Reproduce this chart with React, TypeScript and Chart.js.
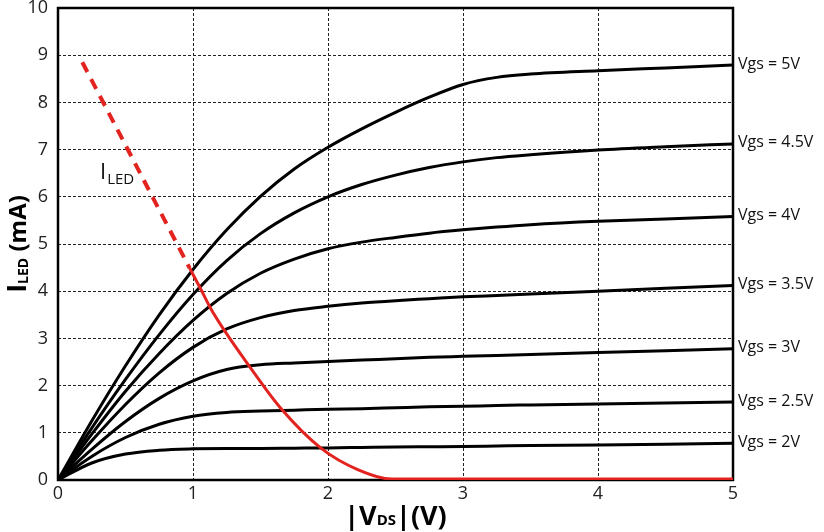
import { useEffect, useRef } from 'react';
import { Chart, registerables } from 'chart.js';
Chart.register(...registerables);

// |VDS| (V) sample points
const vds = [0, 0.25, 0.5, 0.75, 1, 1.25, 1.5, 1.75, 2, 2.25, 2.5, 2.75, 3, 3.25, 3.5, 4, 4.5, 5];
// ILED (mA) for each Vgs
const vgs5 = [0, 1.25, 2.42, 3.5, 4.46, 5.3, 6.01, 6.59, 7.05, 7.44, 7.79, 8.11, 8.38, 8.53, 8.6, 8.67, 8.73, 8.79];
const vgs45 = [0, 1.1, 2.13, 3.08, 3.93, 4.65, 5.22, 5.66, 6.0, 6.26, 6.46, 6.62, 6.74, 6.83, 6.89, 6.99, 7.06, 7.12];
const vgs4 = [0, 0.97, 1.88, 2.68, 3.38, 3.95, 4.38, 4.68, 4.9, 5.04, 5.14, 5.23, 5.3, 5.36, 5.41, 5.48, 5.53, 5.58];
const vgs35 = [0, 0.83, 1.6, 2.27, 2.81, 3.2, 3.44, 3.59, 3.68, 3.75, 3.8, 3.84, 3.88, 3.91, 3.94, 4.0, 4.06, 4.12];
const vgs3 = [0, 0.65, 1.24, 1.73, 2.1, 2.34, 2.44, 2.48, 2.51, 2.54, 2.57, 2.6, 2.62, 2.64, 2.66, 2.7, 2.74, 2.78];
const vgs25 = [0, 0.5, 0.9, 1.18, 1.35, 1.43, 1.46, 1.48, 1.5, 1.51, 1.53, 1.55, 1.56, 1.58, 1.59, 1.61, 1.63, 1.65];
const vgs2 = [0, 0.36, 0.55, 0.63, 0.66, 0.67, 0.67, 0.675, 0.68, 0.69, 0.7, 0.705, 0.71, 0.72, 0.73, 0.74, 0.76, 0.78];
const curveLabels = ['Vgs = 5V', 'Vgs = 4.5V', 'Vgs = 4V', 'Vgs = 3.5V', 'Vgs = 3V', 'Vgs = 2.5V', 'Vgs = 2V'];

// ILED load line
const ledDashX = [0.18, 0.975];
const ledDashY = [8.85, 4.49];
const ledX = [0.975, 1.06, 1.13, 1.23, 1.41, 1.65, 1.95, 2.22, 2.47, 3, 4, 5];
const ledY = [4.49, 4.03, 3.64, 3.18, 2.44, 1.52, 0.67, 0.22, 0.02, 0.02, 0.02, 0.02];

const xMin = 0, xMax = 5, yMin = 0, yMax = 10;

const RED = '#e3231f';
const FONT = '"Open Sans", "Liberation Sans", sans-serif';

export default function App() {
  const ref = useRef<HTMLCanvasElement>(null);
  useEffect(() => {
    document.body.style.margin = '0';
    const series = [vgs5, vgs45, vgs4, vgs35, vgs3, vgs25, vgs2];
    const datasets: any[] = [
      {
        label: 'ILED',
        data: ledX.map((x, i) => ({ x, y: ledY[i] })),
        borderColor: RED,
        borderWidth: 3,
        pointRadius: 0,
        cubicInterpolationMode: 'monotone',
      },
      {
        label: 'ILED dashed',
        data: ledDashX.map((x, i) => ({ x, y: ledDashY[i] })),
        borderColor: RED,
        borderWidth: 4,
        borderDash: [11, 8],
        pointRadius: 0,
      },
      ...series.map((s, i) => ({
        label: curveLabels[i],
        data: vds.map((x, j) => ({ x, y: s[j] })),
        borderColor: '#000',
        borderWidth: 3,
        pointRadius: 0,
        cubicInterpolationMode: 'monotone',
      })),
    ];

    const annot = {
      id: 'annot',
      beforeDatasetsDraw(chart: any) {
        const { ctx, chartArea: a } = chart;
        ctx.save();
        ctx.strokeStyle = '#000';
        ctx.lineWidth = 2.5;
        ctx.strokeRect(a.left, a.top, a.right - a.left, a.bottom - a.top);
        ctx.restore();
      },
      afterDraw(chart: any) {
        const { ctx, chartArea: a } = chart;
        const ys = chart.scales.y;
        ctx.save();
        ctx.fillStyle = '#111';
        // right-side curve labels
        ctx.font = `16px ${FONT}`;
        ctx.textAlign = 'left';
        ctx.textBaseline = 'middle';
        series.forEach((s, i) => {
          ctx.fillText(curveLabels[i], a.right + 5, ys.getPixelForValue(s[s.length - 1]) - 1);
        });
        // ILED annotation
        ctx.textBaseline = 'alphabetic';
        ctx.font = `22px ${FONT}`;
        ctx.fillText('I', 100, 179);
        const iw = ctx.measureText('I').width;
        ctx.font = `15px ${FONT}`;
        ctx.fillText('LED', 100 + iw + 1, 184);

        // x axis title  |VDS|(V)
        const parts = [
          { t: '|V', f: `bold 27px ${FONT}` },
          { t: 'DS', f: `bold 15px ${FONT}` },
          { t: '|(V)', f: `bold 27px ${FONT}` },
        ];
        let total = 0;
        parts.forEach((p) => { ctx.font = p.f; total += ctx.measureText(p.t).width; });
        let x = (a.left + a.right) / 2 - total / 2;
        ctx.fillStyle = '#000';
        parts.forEach((p) => {
          ctx.font = p.f;
          ctx.fillText(p.t, x, 525);
          x += ctx.measureText(p.t).width;
        });

        // y axis title  ILED (mA)
        const yparts = [
          { t: 'I', f: `bold 27px ${FONT}`, dy: 0 },
          { t: 'LED', f: `bold 14px ${FONT}`, dy: 2 },
          { t: ' (mA)', f: `bold 24px ${FONT}`, dy: 0 },
        ];
        let ytot = 0;
        yparts.forEach((p) => { ctx.font = p.f; ytot += ctx.measureText(p.t).width; });
        ctx.translate(26, (a.top + a.bottom) / 2);
        ctx.rotate(-Math.PI / 2);
        let yx = -ytot / 2;
        yparts.forEach((p) => {
          ctx.font = p.f;
          ctx.fillText(p.t, yx, p.dy);
          yx += ctx.measureText(p.t).width;
        });
        ctx.restore();
      },
    };

    const chart = new Chart(ref.current!, {
      type: 'line',
      data: { datasets },
      options: {
        responsive: false,
        animation: false,
        events: [],
        layout: { padding: { left: 0, right: 91, top: 8, bottom: 0 } },
        plugins: { legend: { display: false }, tooltip: { enabled: false } },
        scales: {
          x: {
            type: 'linear',
            min: xMin,
            max: xMax,
            ticks: { stepSize: 1, color: '#222', font: { size: 18, family: FONT }, padding: 3 },
            grid: { color: '#222', lineWidth: 1, drawTicks: false },
            border: { display: false, dash: [3, 2] },
            afterFit: (s: any) => { s.height = 52; s.paddingLeft = 0; s.paddingRight = 0; },
          },
          y: {
            type: 'linear',
            min: yMin,
            max: yMax,
            ticks: { stepSize: 1, color: '#222', font: { size: 18, family: FONT }, padding: 10 },
            grid: { color: '#222', lineWidth: 1, drawTicks: false },
            border: { display: false, dash: [3, 2] },
            afterFit: (s: any) => { s.width = 58; s.paddingTop = 0; s.paddingBottom = 0; },
          },
        },
      } as any,
      plugins: [annot],
    });
    return () => chart.destroy();
  }, []);
  return <canvas ref={ref} width={824} height={532} style={{ display: 'block' }} />;
}
